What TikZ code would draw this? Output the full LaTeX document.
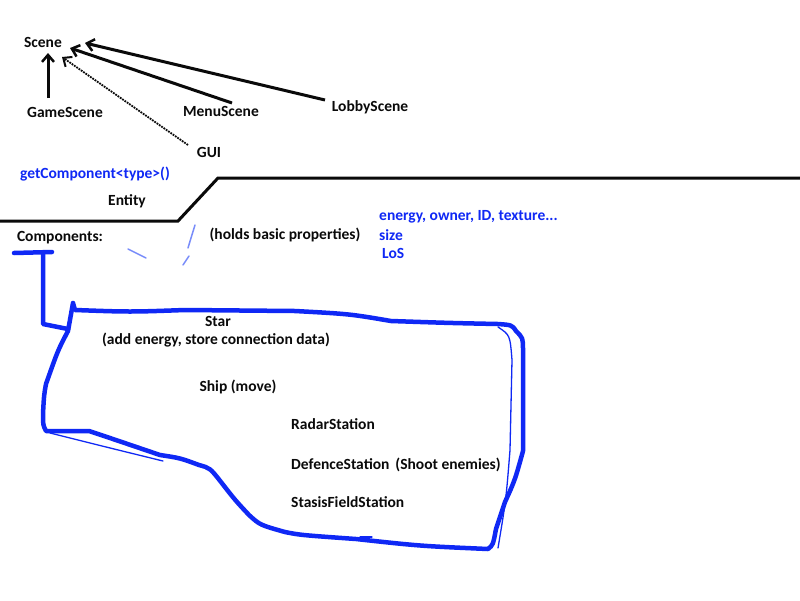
\documentclass[tikz,border=0pt]{standalone}
\usepackage{fontspec}
\setmainfont{Carlito}
\usetikzlibrary{arrows.meta}
\definecolor{ink}{RGB}{10,10,10}
\definecolor{blueink}{RGB}{15,40,245}
\definecolor{paleblue}{RGB}{120,140,250}
\tikzset{
  lbl/.style={font=\fontsize{15.5}{17}\selectfont\bfseries, text=ink, inner sep=1pt},
  bluelbl/.style={font=\fontsize{15.5}{17}\selectfont\bfseries, text=blueink, inner sep=1pt},
  arr/.style={draw=ink, line width=3pt, -{Straight Barb[length=7pt,width=12pt,line width=2.5pt]}},
  thinarr/.style={draw=ink, line width=1.8pt, densely dotted, -{Straight Barb[length=7pt,width=12pt,line width=2pt]}},
  ground/.style={draw=ink, line width=3pt},
  bluepen/.style={draw=blueink, line width=4.5pt, line join=round, line cap=round},
  bluethin/.style={draw=blueink, line width=1.3pt, line join=round, line cap=round},
  faint/.style={draw=paleblue, line width=1.5pt, line cap=round}
}
\begin{document}
\begin{tikzpicture}[x=1pt,y=-1pt]
\useasboundingbox[fill=white] (0,0) rectangle (800,600);
% scene hierarchy
\node[lbl] (scene) at (43,42) {Scene};
\node[lbl] (game) at (65,112) {GameScene};
\node[lbl] (menu) at (221,111) {MenuScene};
\node[lbl] (lobby) at (370,107) {LobbyScene};
\node[lbl] (gui) at (209,152) {GUI};
\draw[arr] ([shift={(-17,-14)}]game.center) -- ([shift={(5,11)}]scene.center);
\draw[arr] ([shift={(11,-8)}]menu.center) -- ([shift={(27,6)}]scene.center);
\draw[arr] ([shift={(-45,-7)}]lobby.center) -- ([shift={(42,1)}]scene.center);
\draw[thinarr] ([shift={(-21,-7)}]gui.center) -- ([shift={(19,15)}]scene.center);
% entity
\node[bluelbl] (getc) at (95,174) {getComponent<type>()};
\node[lbl] (entity) at (127,201) {Entity};
\coordinate (g0) at (0,221);
\coordinate (g1) at (178,221);
\coordinate (g2) at (218,178);
\coordinate (g3) at (800,178);
\draw[ground] (g0) -- (g1) -- (g2) -- (g3);
\node[lbl] (comp) at (60,238) {Components:};
\node[lbl] (holds) at (285,235) {(holds basic properties)};
\node[bluelbl, anchor=west] (props) at (378,217) {energy, owner, ID, texture...};
\node[bluelbl, anchor=west] (size) at (378,235) {size};
\node[bluelbl, anchor=west] (los) at (381,253) {LoS};
% faint strokes
\draw[faint] (128,249) -- (146,258);
\draw[faint] (195,225) .. controls (191,238) .. (188,248);
\draw[faint] (189,256) -- (183,265);
% component list
\node[lbl] (star) at (218,321) {Star};
\node[lbl] (stardesc) at (216,340) {(add energy, store connection data)};
\node[lbl] (ship) at (238,387) {Ship (move)};
\node[lbl, anchor=west] (radar) at (290,424) {RadarStation};
\node[lbl, anchor=west] (def) at (290,465) {DefenceStation\hspace{6pt}(Shoot enemies)};
\node[lbl, anchor=west] (stasis) at (290,502) {StasisFieldStation};
% blue connector and outline
\coordinate (c0) at (14,253);
\coordinate (c1) at (52,252);
\coordinate (c2) at (43,253);
\coordinate (c3) at (43,324);
\coordinate (c4) at (68,329);
\draw[bluepen] (c0) -- (c1);
\draw[bluepen] (c2) -- (c3) -- (c4);
\draw[bluepen] (73,303) -- (75,310) .. controls (130,312) .. (185,310)
  .. controls (240,310) .. (295,311) .. controls (350,314) .. (391,321)
  .. controls (450,323) .. (498,324) .. controls (512,325) .. (516,331)
  .. controls (523,338) .. (523,350) -- (523,451)
  .. controls (515,480) .. (505,502) -- (496,529) .. controls (493,545) .. (488,549)
  .. controls (420,546) .. (356,539) .. controls (300,535) .. (285,532)
  .. controls (260,525) .. (249,515) .. controls (235,500) .. (221,482)
  .. controls (210,468) .. (199,465) .. controls (180,458) .. (160,455)
  .. controls (110,438) .. (89,431) -- (46,431) .. controls (43,425) .. (43,414)
  .. controls (44,395) .. (46,384) .. controls (58,350) .. (68,331) -- (73,303);
\draw[bluethin] (498,327) .. controls (510,335) .. (512,360) -- (510,450)
  .. controls (506,500) .. (498,548);
\draw[bluethin] (50,433) .. controls (110,448) .. (163,461);
\draw[bluethin] (360,537) -- (372,537);
\end{tikzpicture}
\end{document}
